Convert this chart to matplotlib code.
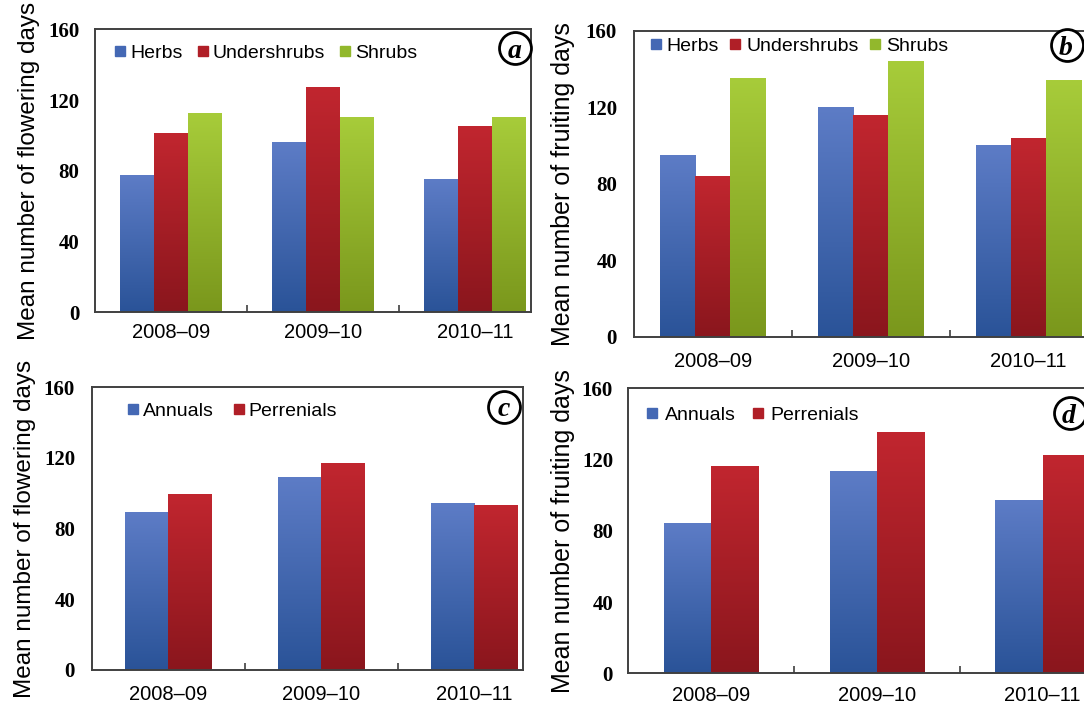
import numpy as np
import matplotlib
matplotlib.use("Agg")
import matplotlib.pyplot as plt
from matplotlib.colors import LinearSegmentedColormap
from matplotlib.lines import Line2D

plt.rcParams['font.family'] = ['Liberation Sans', 'DejaVu Sans']

years = ['2008–09', '2009–10', '2010–11']
y_ticks = [0, 40, 80, 120, 160]

# panel a: flowering days by life form
flower_herbs = [77, 96, 75]
flower_undershrubs = [101, 127, 105]
flower_shrubs = [112, 110, 110]
# panel b: fruiting days by life form
fruit_herbs = [95, 120, 100]
fruit_undershrubs = [84, 116, 104]
fruit_shrubs = [135, 144, 134]
# panel c: flowering days by life span
flower_annuals = [89, 109, 94]
flower_perennials = [99.5, 117, 93]
# panel d: fruiting days by life span
fruit_annuals = [84, 113, 97]
fruit_perennials = [116, 135, 122]

blue = ('#2a5398', '#5d7cc6')    # (bottom, top)
red = ('#8a161d', '#c1262f')
green = ('#7a971c', '#a7cc3a')
mid = {'blue': '#4468b4', 'red': '#b01f27', 'green': '#92b82c'}

grad = np.linspace(0, 1, 256).reshape(-1, 1)


def grad_bars(ax, xs, hs, w, cols):
    bars = ax.bar(xs, hs, w, color='none', edgecolor='none')
    cmap = LinearSegmentedColormap.from_list('g', list(cols))
    for r in bars:
        x0, y0 = r.get_xy()
        ax.imshow(grad, extent=[x0, x0 + r.get_width(), y0, y0 + r.get_height()],
                  origin='lower', aspect='auto', cmap=cmap, zorder=2)


def panel(ax, series, cols, names, width, ylabel, xmax, letter, leg_xy, letter_xy,
          ypad, xpad, lab_x, lab_fs, colspace, textpad, hide_right=False):
    n = len(series)
    x = np.arange(len(years))
    offs = (np.arange(n) - (n - 1) / 2) * width
    for s, c, o in zip(series, cols, offs):
        grad_bars(ax, x + o, s, width, c)
    ax.set_xlim(-0.5, xmax)
    ax.set_ylim(0, 160)
    ax.set_aspect('auto')
    ax.set_yticks(y_ticks)
    ax.set_yticklabels([str(v) for v in y_ticks], family='Liberation Serif',
                       fontweight='bold', fontsize=15)
    ax.tick_params(axis='y', length=0, pad=ypad)
    ax.set_xticks(x)
    ax.set_xticklabels(years, fontsize=14.5)
    ax.tick_params(axis='x', which='major', length=0, pad=xpad)
    ax.set_xticks([0.5, 1.5], minor=True)
    ax.tick_params(axis='x', which='minor', direction='in', length=5, width=1.2,
                   color='#404040')
    for sp in ax.spines.values():
        sp.set_color('#404040')
        sp.set_linewidth(1.4)
    if hide_right:
        ax.spines['right'].set_visible(False)
    ax.set_ylabel(ylabel, fontsize=lab_fs)
    ax.yaxis.set_label_coords(lab_x, 0.5)
    handles = [Line2D([], [], ls='none', marker='s', markersize=7.5,
                      color=mid[k]) for k in names[1]]
    ax.legend(handles, names[0], loc='center left', bbox_to_anchor=leg_xy,
              frameon=False, fontsize=14, ncol=n, handlelength=0.6,
              handletextpad=textpad, columnspacing=colspace, borderpad=0,
              borderaxespad=0)
    ax.plot([letter_xy[0]], [letter_xy[1]], transform=ax.transAxes, marker='o',
            markersize=23, mfc='white', mec='black', mew=2, clip_on=False, zorder=5)
    ax.text(letter_xy[0] - 0.002, letter_xy[1], letter, transform=ax.transAxes,
            ha='center', va='center_baseline', family='Liberation Serif',
            fontweight='bold', fontstyle='italic', fontsize=20, zorder=6)


fig = plt.figure(figsize=(10.84, 7.06), dpi=100)
ax_a = fig.add_axes([0.0874, 0.5577, 0.490 - 0.0874, 0.9585 - 0.5577])
ax_b = fig.add_axes([0.5846, 0.5231, 1.0 - 0.5846, 0.9565 - 0.5231])
ax_c = fig.add_axes([0.0846, 0.0510, 0.4828 - 0.0846, 0.4514 - 0.0510])
ax_d = fig.add_axes([0.5796, 0.0463, 1.0 - 0.5796, 0.4500 - 0.0463])

life_forms = (['Herbs', 'Undershrubs', 'Shrubs'], ['blue', 'red', 'green'])
life_spans = (['Annuals', 'Perrenials'], ['blue', 'red'])

panel(ax_a, [flower_herbs, flower_undershrubs, flower_shrubs], [blue, red, green],
      life_forms, 0.222, 'Mean number of flowering days', 2.37, 'a',
      (0.045, 0.915), (0.963, 0.933), 11, 8, -0.125, 17.5, 0.75, 0.2)
panel(ax_b, [fruit_herbs, fruit_undershrubs, fruit_shrubs], [blue, red, green],
      life_forms, 0.222, 'Mean number of fruiting days', 2.35, 'b',
      (0.036, 0.951), (0.962, 0.953), 12, 11, -0.130, 18, 0.55, 0.25, True)
panel(ax_c, [flower_annuals, flower_perennials], [blue, red],
      life_spans, 0.285, 'Mean number of flowering days', 2.32, 'c',
      (0.082, 0.917), (0.956, 0.931), 12, 11, -0.130, 17.5, 1.0, 0.2)
panel(ax_d, [fruit_annuals, fruit_perennials], [blue, red],
      life_spans, 0.285, 'Mean number of fruiting days', 2.25, 'd',
      (0.040, 0.906), (0.969, 0.912), 11, 9, -0.117, 18, 0.85, 0.35, True)

fig.savefig('out.png', dpi=100)
